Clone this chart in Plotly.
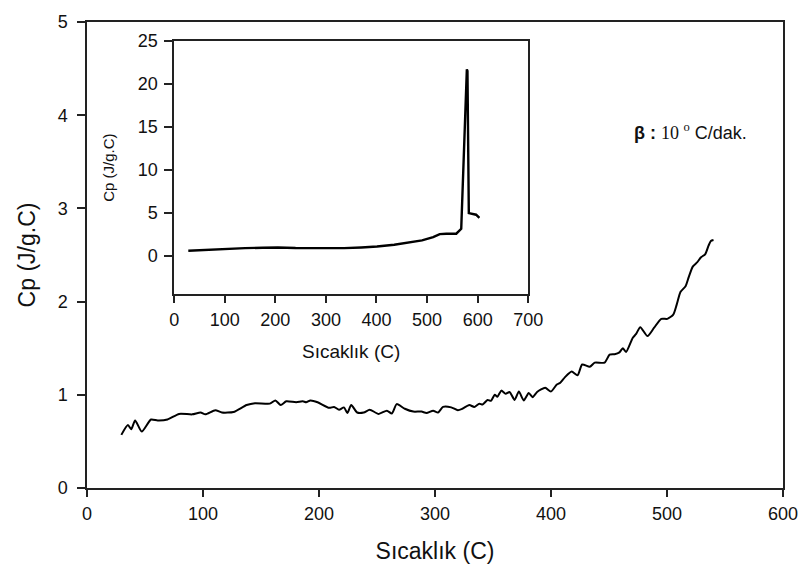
import plotly.graph_objects as go

# Specific heat capacity vs temperature (main curve, 30-540 C)
temp_main = [29.6, 35.3, 38.1, 41.5, 47.2, 55.2, 60.9, 69.4, 79.4, 90.7, 97.9, 102.0,
             110.6, 116.3, 126.3, 137.6, 144.8, 157.6, 162.4, 167.0, 171.8, 180.3,
             186.0, 188.9, 192.6, 198.8, 208.8, 213.0, 217.3, 221.5, 224.4, 227.8,
             232.9, 238.6, 243.7, 251.4, 258.5, 262.8, 267.0, 274.0, 281.3, 288.4,
             292.7, 298.4, 302.6, 306.9, 314.0, 319.7, 323.5, 329.6, 333.8, 338.2,
             341.0, 345.3, 348.2, 351.5, 353.8, 357.2, 360.9, 364.3, 368.6, 372.3,
             376.5, 380.8, 384.2, 388.0, 395.0, 399.9, 405.0, 408.0, 412.1, 417.8,
             422.9, 426.9, 433.4, 437.7, 446.2, 450.5, 454.8, 459.0, 461.9, 464.7,
             470.4, 473.2, 477.0, 483.2, 488.9, 495.1, 500.3, 505.4, 508.3, 511.7,
             516.0, 518.8, 522.2, 525.9, 529.3, 533.0, 535.8, 537.8, 540.1]
cp_main = [0.57, 0.675, 0.63, 0.725, 0.605, 0.735, 0.725, 0.735, 0.795, 0.79, 0.81, 0.79,
           0.835, 0.81, 0.815, 0.89, 0.91, 0.905, 0.94, 0.89, 0.93, 0.92,
           0.93, 0.92, 0.94, 0.92, 0.86, 0.87, 0.84, 0.865, 0.805, 0.89,
           0.81, 0.81, 0.84, 0.795, 0.83, 0.80, 0.90, 0.85, 0.82, 0.82,
           0.805, 0.83, 0.81, 0.87, 0.865, 0.835, 0.85, 0.89, 0.87, 0.905,
           0.895, 0.945, 0.935, 1.0, 0.98, 1.045, 1.01, 1.03, 0.945, 1.035,
           0.94, 1.02, 0.975, 1.03, 1.075, 1.035, 1.11, 1.13, 1.19, 1.25,
           1.21, 1.325, 1.30, 1.345, 1.345, 1.43, 1.435, 1.455, 1.50, 1.46,
           1.61, 1.65, 1.725, 1.63, 1.72, 1.815, 1.815, 1.86, 1.965, 2.105,
           2.165, 2.265, 2.375, 2.42, 2.475, 2.51, 2.60, 2.65, 2.66]

# Full range including the transition peak (inset)
temp_full = [28, 60, 88, 115, 140, 175, 205, 240, 270, 305, 336, 370, 401, 435,
             466, 490, 512, 525, 538, 557.7, 567.5, 570.8, 578.6, 579.8, 582.5,
             596.9, 603.4]
cp_full = [0.57, 0.68, 0.77, 0.82, 0.88, 0.92, 0.96, 0.90, 0.88, 0.86, 0.88, 0.96,
           1.07, 1.28, 1.53, 1.78, 2.17, 2.51, 2.56, 2.56, 3.13, 8.96, 21.7,
           21.5, 4.96, 4.77, 4.39]

main_xticks = [0, 100, 200, 300, 400, 500, 600]
main_yticks = [0, 1, 2, 3, 4, 5]
inset_xticks = [0, 100, 200, 300, 400, 500, 600, 700]
inset_yticks = [0, 5, 10, 15, 20, 25]

FONT = "Liberation Sans, Arial, sans-serif"
AX = "#222222"

fig = go.Figure()
fig.add_trace(go.Scatter(x=temp_main, y=cp_main, mode="lines",
                         line=dict(color="black", width=2, shape="spline", smoothing=0.6),
                         xaxis="x", yaxis="y", showlegend=False))
fig.add_trace(go.Scatter(x=temp_full, y=cp_full, mode="lines",
                         line=dict(color="black", width=2.4),
                         xaxis="x2", yaxis="y2", showlegend=False))

axis_common = dict(showline=True, linecolor=AX, linewidth=1.5, mirror=True,
                   ticks="outside", tickcolor=AX, tickwidth=1.5,
                   showgrid=False, zeroline=False,
                   tickfont=dict(family=FONT, size=18, color="#111111"))

fig.update_layout(
    width=810, height=574,
    margin=dict(l=87, r=20, t=14, b=86),
    paper_bgcolor="white", plot_bgcolor="white",
    font=dict(family=FONT, color="#111111"),
    xaxis=dict(axis_common, range=[0, 600], tickvals=main_xticks, ticklen=7,
               domain=[0, 1], ticklabelstandoff=2,
               title=dict(text="Sıcaklık (C)", font=dict(size=23), standoff=20)),
    yaxis=dict(axis_common, range=[0, 5], tickvals=main_yticks, ticklen=8,
               domain=[0, 1], ticklabelstandoff=6,
               title=dict(text="Cp (J/g.C)", font=dict(size=23), standoff=16)),
    xaxis2=dict(axis_common, range=[0, 700], tickvals=inset_xticks, ticklen=7,
                domain=[0.1252, 0.634], anchor="y2", ticklabelstandoff=1,
                title=dict(text="Sıcaklık (C)", font=dict(size=19), standoff=16)),
    yaxis2=dict(axis_common, range=[-4.5, 25], tickvals=inset_yticks, ticklen=8,
                domain=[0.4156, 0.9593], anchor="x2", ticklabelstandoff=3,
                title=dict(text="Cp (J/g.C)", font=dict(size=15), standoff=20)),
    annotations=[dict(
        xref="paper", yref="paper",
        x=(637 - 87) / 703, y=(488 - 125) / 474,
        xanchor="left", yanchor="middle", showarrow=False,
        text="<b>β :</b> <span style='font-family:Liberation Serif, Times New Roman, serif'>10 <sup>o</sup></span> C/dak.",
        font=dict(family=FONT, size=18, color="#111111"))],
)

fig.write_html("out.html")
